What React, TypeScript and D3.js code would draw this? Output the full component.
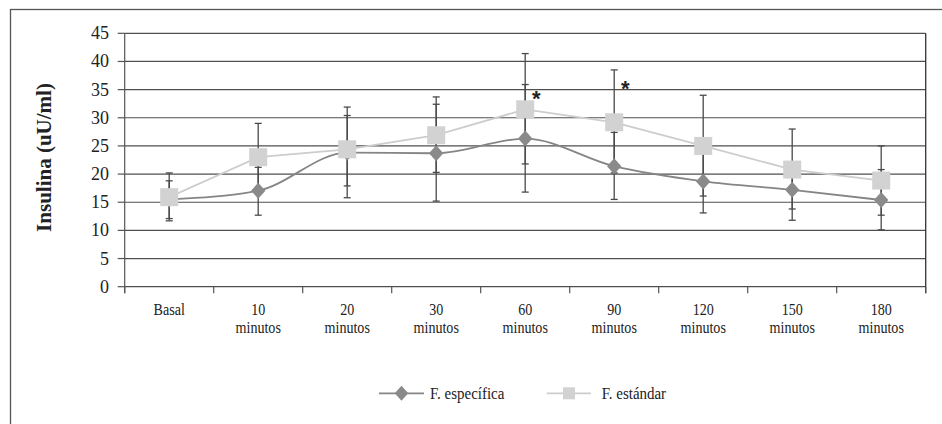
import React from "react";
import * as d3 from "d3";

const categories = ["Basal", "10 minutos", "20 minutos", "30 minutos", "60 minutos", "90 minutos", "120 minutos", "150 minutos", "180 minutos"];
const categoryLines = [["Basal"], ["10", "minutos"], ["20", "minutos"], ["30", "minutos"], ["60", "minutos"], ["90", "minutos"], ["120", "minutos"], ["150", "minutos"], ["180", "minutos"]];

const especifica = [15.5, 17.05, 23.8, 23.7, 26.3, 21.4, 18.7, 17.2, 15.4];
const especificaLow = [12.1, 12.7, 15.8, 15.2, 16.8, 15.5, 13.1, 11.8, 10.1];
const especificaHigh = [18.8, 21.2, 31.9, 32.4, 35.9, 27.4, 24.3, 22.0, 20.8];

const estandar = [15.9, 23.0, 24.4, 26.9, 31.5, 29.2, 25.0, 20.8, 18.85];
const estandarLow = [11.7, 17.0, 17.9, 20.3, 21.8, 20.2, 16.1, 13.8, 12.7];
const estandarHigh = [20.2, 29.0, 30.4, 33.7, 41.4, 38.5, 34.0, 28.0, 25.0];

const yTicks = [0, 5, 10, 15, 20, 25, 30, 35, 40, 45];

const starCategories = ["60 minutos", "90 minutos"];
const starValues = [33.9, 35.6];

const seriesNames = ["F. específica", "F. estándar"];

const SERIF = "Liberation Serif, Times New Roman, serif";

export default function App() {
  const W = 942, H = 424;
  const left = 124.7, right = 925.7, top = 33.3, bottom = 286.7;
  const x = d3.scaleBand<string>().domain(categories).range([left, right]).paddingInner(0).paddingOuter(0);
  const y = d3.scaleLinear().domain([0, 45]).range([bottom, top]);
  const cx = (c: string) => (x(c) as number) + x.bandwidth() / 2;

  const darkLine = "#858585";
  const darkFill = "#8a8a8a";
  const lightLine = "#cdcdcd";
  const lightFill = "#d2d2d2";
  const errColor = "#4a4a4a";
  const gridColor = "#4f4f4f";

  const lineSpec = d3.line<number>().x((_, i) => cx(categories[i])).y((d) => y(d)).curve(d3.curveMonotoneX);
  const lineStd = d3.line<number>().x((_, i) => cx(categories[i])).y((d) => y(d));

  const diamond = (px: number, py: number, r: number) => `M${px},${py - r}L${px + r * 0.9},${py}L${px},${py + r}L${px - r * 0.9},${py}Z`;

  const errBars = (lo: number[], hi: number[], key: string) =>
    categories.map((c, i) => {
      const X = cx(c);
      return (
        <g key={key + i} stroke={errColor} strokeWidth={1.3}>
          <line x1={X} x2={X} y1={y(lo[i])} y2={y(hi[i])} />
          <line x1={X - 3.5} x2={X + 3.5} y1={y(lo[i])} y2={y(lo[i])} />
          <line x1={X - 3.5} x2={X + 3.5} y1={y(hi[i])} y2={y(hi[i])} />
        </g>
      );
    });

  const bandBounds = categories.map((c) => x(c) as number).concat([right]);

  return (
    <svg width={W} height={H} style={{ position: "absolute", left: 0, top: 0, background: "#fff" }}>
      <rect x={0} y={0} width={W} height={H} fill="#fff" />
      {/* outer frame */}
      <rect x={10.5} y={9.5} width={960} height={440} fill="none" stroke="#555" strokeWidth={1.3} />

      {/* gridlines */}
      {yTicks.map((t) => (
        <line key={"g" + t} x1={left} x2={right} y1={y(t)} y2={y(t)} stroke={gridColor} strokeWidth={1.2} />
      ))}
      {/* axes */}
      <line x1={left} x2={left} y1={top} y2={bottom + 6.5} stroke="#555" strokeWidth={1.2} />
      <line x1={right} x2={right} y1={top} y2={bottom + 6.5} stroke="#333" strokeWidth={1.3} />
      {yTicks.map((t) => (
        <g key={"yt" + t}>
          <line x1={left - 7} x2={left} y1={y(t)} y2={y(t)} stroke="#555" strokeWidth={1.2} />
          <text x={109} y={y(t) + 6} textAnchor="end" fontSize={18} fontFamily={SERIF} fill="#222">{t}</text>
        </g>
      ))}
      {bandBounds.map((b, i) => (
        <line key={"xt" + i} x1={b} x2={b} y1={bottom} y2={bottom + 6.5} stroke="#555" strokeWidth={1.2} />
      ))}
      {categories.map((c, i) => (
        <g key={"xl" + i} transform={`translate(${cx(c)},0) scale(0.88,1)`}>
          {categoryLines[i].map((ln, j) => (
            <text key={j} x={0} y={315 + j * 18} textAnchor="middle" fontSize={16} fontFamily={SERIF} fill="#222">{ln}</text>
          ))}
        </g>
      ))}

      {/* y axis title */}
      <text transform={`translate(51,157.5) rotate(-90)`} textAnchor="middle" fontSize={21} fontWeight="bold" fontFamily={SERIF} fill="#222">Insulina (uU/ml)</text>

      {/* error bars */}
      {errBars(especificaLow, especificaHigh, "es")}
      {errBars(estandarLow, estandarHigh, "st")}

      {/* lines */}
      <path d={lineSpec(especifica) as string} fill="none" stroke={darkLine} strokeWidth={1.8} />
      <path d={lineStd(estandar) as string} fill="none" stroke={lightLine} strokeWidth={1.8} />

      {/* markers */}
      {especifica.map((v, i) => (
        <path key={"d" + i} d={diamond(cx(categories[i]), y(v), 8)} fill={darkFill} />
      ))}
      {estandar.map((v, i) => (
        <rect key={"s" + i} x={cx(categories[i]) - 9} y={y(v) - 9} width={18} height={18} fill={lightFill} />
      ))}

      {/* significance stars */}
      {starCategories.map((c, i) => (
        <text key={"star" + i} x={cx(c) + 11} y={y(starValues[i]) + 10} textAnchor="middle" fontSize={22} fontWeight="bold" fontFamily="Liberation Sans, Arial, sans-serif" fill="#222">*</text>
      ))}

      {/* legend */}
      <g>
        <line x1={379} x2={424} y1={393.3} y2={393.3} stroke={darkLine} strokeWidth={1.8} />
        <path d={diamond(401.5, 393.3, 7.5)} fill={darkFill} />
        <g transform="translate(430,399) scale(0.88,1)">
          <text x={0} y={0} fontSize={17} fontFamily={SERIF} fill="#222">{seriesNames[0]}</text>
        </g>
        <line x1={546.7} x2={591} y1={393.3} y2={393.3} stroke={lightLine} strokeWidth={1.8} />
        <rect x={563} y={387.3} width={12} height={12} fill={lightFill} />
        <g transform="translate(601.7,399) scale(0.88,1)">
          <text x={0} y={0} fontSize={17} fontFamily={SERIF} fill="#222">{seriesNames[1]}</text>
        </g>
      </g>
    </svg>
  );
}
